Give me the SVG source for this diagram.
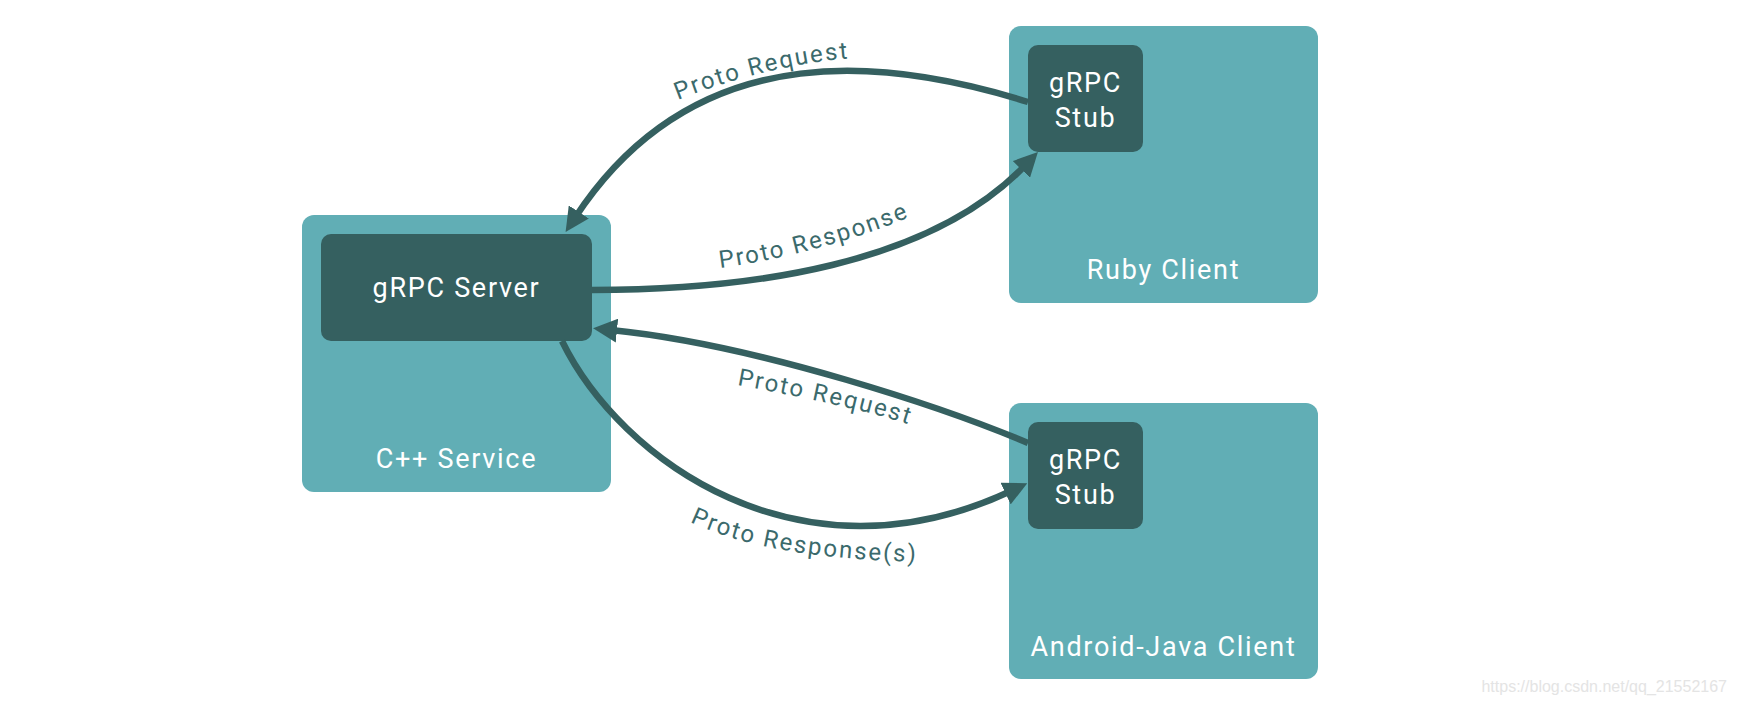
<svg xmlns="http://www.w3.org/2000/svg" width="1738" height="704" viewBox="0 0 1738 704">
  <defs>
    <style>
      .outer { fill: #61aeb5; }
      .inner { fill: #356060; }
      .ntext { font-family: Roboto, "Liberation Sans", sans-serif; font-size: 27px; letter-spacing: 1.7px; fill: #ffffff; text-anchor: middle; }
      .conn { fill: none; stroke: #356060; stroke-width: 6.5; }
      .label { font-family: Roboto, "Liberation Sans", sans-serif; font-size: 24px; letter-spacing: 2px; fill: #3b6a6c; }
      .wm { font-family: "Liberation Sans", Arial, sans-serif; font-size: 16px; fill: #e4e4e4; text-anchor: end; }
    </style>
    <marker id="arrow" viewBox="0 0 24 24" markerUnits="userSpaceOnUse" markerWidth="24" markerHeight="24" refX="6" refY="12" orient="auto">
      <path d="M0,0 L24,12 L0,24 z" fill="#356060"/>
    </marker>
    <path id="tp1" d="M678,100 C720,83 790,62 856,58"/>
    <path id="tp2" d="M720,268 C770,262 860,240 916,214"/>
    <path id="tp3" d="M737,385 C780,393 860,408 914,426"/>
    <path id="tp4" d="M690,522 C762,556 860,560 920,562"/>
  </defs>
  <rect width="1738" height="704" fill="#ffffff"/>

  <g id="cpp-service">
    <rect class="outer" x="302" y="215" width="309" height="277" rx="12"/>
    <text class="ntext" x="456.5" y="468">C++ Service</text>
  </g>
  <g id="grpc-server">
    <rect class="inner" x="321" y="234" width="271" height="107" rx="10"/>
    <text class="ntext" x="456.5" y="297">gRPC Server</text>
  </g>

  <g id="ruby-client">
    <rect class="outer" x="1009" y="26" width="309" height="277" rx="12"/>
    <text class="ntext" x="1163.5" y="279">Ruby Client</text>
  </g>
  <g id="ruby-stub">
    <rect class="inner" x="1028" y="45" width="115" height="107" rx="10"/>
    <text class="ntext" x="1085.5" y="92">gRPC</text>
    <text class="ntext" x="1085.5" y="127">Stub</text>
  </g>

  <g id="android-client">
    <rect class="outer" x="1009" y="403" width="309" height="276" rx="12"/>
    <text class="ntext" x="1163.5" y="656">Android-Java Client</text>
  </g>
  <g id="android-stub">
    <rect class="inner" x="1028" y="422" width="115" height="107" rx="10"/>
    <text class="ntext" x="1085.5" y="469">gRPC</text>
    <text class="ntext" x="1085.5" y="504">Stub</text>
  </g>

  <g id="connectors">
    <path class="conn" d="M1028,102 C900,62 700,28 575.5,217" marker-end="url(#arrow)"/>
    <path class="conn" d="M592,290 C750,290 930,265 1025.5,165" marker-end="url(#arrow)"/>
    <path class="conn" d="M1028,443 C950,410 760,345 611,330" marker-end="url(#arrow)"/>
    <path class="conn" d="M562,341 C620,460 800,590 1011,491" marker-end="url(#arrow)"/>
    <text class="label"><textPath href="#tp1">Proto Request</textPath></text>
    <text class="label"><textPath href="#tp2">Proto Response</textPath></text>
    <text class="label"><textPath href="#tp3">Proto Request</textPath></text>
    <text class="label"><textPath href="#tp4">Proto Response(s)</textPath></text>
  </g>

  <text class="wm" x="1727" y="692">https://blog.csdn.net/qq_21552167</text>
</svg>
